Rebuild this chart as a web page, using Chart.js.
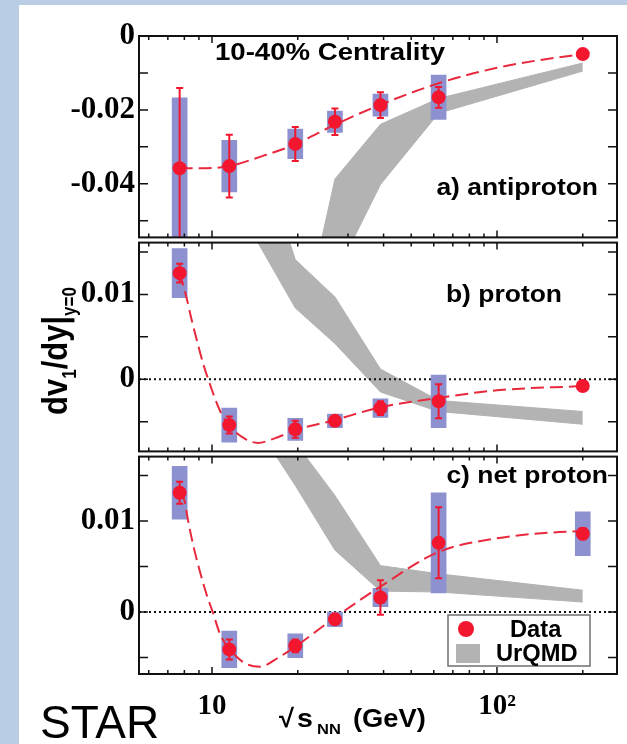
<!DOCTYPE html>
<html>
<head>
<meta charset="utf-8">
<title>dv1/dy</title>
<script src="https://cdn.jsdelivr.net/npm/chart.js@4/dist/chart.umd.min.js"></script>
<style>
    html, body { margin: 0; padding: 0; }
    body { width: 627px; height: 744px; background: #b9cde5; position: relative; overflow: hidden; }
    #sheet { position: absolute; left: 19px; top: 5px; right: 0; bottom: 0; background: #fff; }
    canvas { position: absolute; left: 0; }
</style>
</head>
<body>
<div id="sheet"></div>
<canvas id="panelA" width="627" height="260" style="top:0"></canvas>
<canvas id="panelB" width="627" height="254" style="top:220px"></canvas>
<canvas id="panelC" width="627" height="310" style="top:434px"></canvas>
<script>
/**
 * 数据
 */
//能量点 (GeV)
var energies = [7.7, 11.5, 19.6, 27, 39, 62.4, 200];

//a) antiproton
var antiV1 = [-0.0358, -0.0352, -0.0292, -0.0232, -0.0187, -0.0166, -0.0049];
var antiStat = [0.0217, 0.0085, 0.0046, 0.0036, 0.0035, 0.0028, 0];
var antiSys = [0.0191, 0.0070, 0.0040, 0.0029, 0.0030, 0.0060, 0];

//b) proton
var protV1 = [0.0125, -0.0054, -0.0059, -0.0049, -0.0034, -0.0026, -0.0008];
var protStat = [0.0011, 0.0010, 0.0010, 0.0005, 0.0008, 0.0020, 0];
var protSys = [0.0029, 0.0020, 0.0013, 0.0008, 0.0011, 0.0031, 0];

//c) net proton
var netV1 = [0.0131, -0.0041, -0.0037, -0.0008, 0.0016, 0.0076, 0.0086];
var netStat = [0.0012, 0.0011, 0.0007, 0.0004, 0.0019, 0.0039, 0.0006];
var netSys = [0.0029, 0.0020, 0.0013, 0.0008, 0.0010, 0.0055, 0.0024];

//UrQMD 带 (上沿 / 下沿)
var antiBandE = [19.6, 27, 39, 62.4, 200];
var antiBandHi = [-0.087, -0.0387, -0.0239, -0.0169, -0.0073];
var antiBandLo = [-0.100, -0.0650, -0.0402, -0.0209, -0.0095];

var protBandE = [11.5, 19.6, 27, 39, 62.4, 200];
var protBandHi = [0.038, 0.0141, 0.0097, 0.0012, -0.0025, -0.0038];
var protBandLo = [0.022, 0.0084, 0.0042, -0.0015, -0.0038, -0.0053];

var netBandE = [11.5, 19.6, 27, 39, 62.4, 200];
var netBandHi = [0.030, 0.0186, 0.0128, 0.0051, 0.0042, 0.0024];
var netBandLo = [0.025, 0.0139, 0.0068, 0.0023, 0.0022, 0.0011];

//拟合曲线
var antiFitE = [7.7, 9, 11.5, 15, 19.6, 27, 39, 62.4, 100, 150, 200];
var antiFit = [-0.0358, -0.0358, -0.0352, -0.0325, -0.0293, -0.0240, -0.0186, -0.0128, -0.0086, -0.0062, -0.0049];

var protFitE = [7.7, 8.1, 8.5, 8.85, 9.3, 9.7, 10.7, 11.6, 13.2, 14.5, 16.5, 19.6, 27, 39, 62.4, 100, 200];
var protFit = [0.0125, 0.0099, 0.0069, 0.0046, 0.0019, 0.0, -0.0038, -0.0056, -0.0071, -0.0075, -0.0070, -0.0060, -0.0048, -0.0033, -0.0022, -0.0013, -0.0008];

var netFitE = [7.7, 8.0, 8.26, 8.6, 9.08, 9.58, 10.06, 10.67, 11.4, 12.2, 13.2, 14.7, 17.3, 19.6, 27, 39, 62.4, 100, 150, 200];
var netFit = [0.0131, 0.0123, 0.0099, 0.0073, 0.0044, 0.0019, 0.0, -0.0024, -0.0039, -0.0049, -0.0057, -0.0060, -0.0049, -0.0038, -0.0006, 0.0028, 0.0066, 0.0081, 0.0087, 0.0089];

//刻度
var antiTicks = [0, -0.01, -0.02, -0.03, -0.04, -0.05];
var antiTickLabels = ['0', '', '-0.02', '', '-0.04', ''];
var protTicks = [0.015, 0.01, 0.005, 0, -0.005];
var protTickLabels = ['', '0.01', '', '0', ''];
var xMajorTicks = [10, 100];
var xMajorLabels = ['10', '10\u00b2'];
var xMinorTicks = [6, 7, 8, 9, 20, 30, 40, 50, 60, 70, 80, 90, 200];

var RED = '#f2162e';
var FIT_RED = '#e8283c';
var BLUE = '#8d91cf';
var GRAY = '#b3b3b3';
var SANS = '"Liberation Sans", Arial, sans-serif';
var SERIF = '"Liberation Serif", "Times New Roman", serif';

function pts(xs, ys) {
    return xs.map(function (x, i) { return {x: x, y: ys[i]}; });
}

//横向拉伸的文字
function stretchText(ctx, text, x, y, font, align, sx) {
    ctx.save();
    ctx.font = font;
    ctx.fillStyle = '#000';
    ctx.textAlign = 'left';
    ctx.textBaseline = 'alphabetic';
    var w = ctx.measureText(text).width * sx;
    var left = align === 'right' ? x - w : (align === 'center' ? x - w / 2 : x);
    ctx.translate(left, y);
    ctx.scale(sx, 1);
    ctx.fillText(text, 0, 0);
    ctx.restore();
}

//边框 + 内向刻度
var frameTicks = {
    id: 'frameTicks',
    afterDraw: function (chart) {
        var ctx = chart.ctx, a = chart.chartArea;
        var xs = chart.scales.x, ys = chart.scales.y;
        ctx.save();
        ctx.strokeStyle = '#111';
        ctx.lineWidth = 1.5;
        ctx.beginPath();
        ys.ticks.forEach(function (t) {
            var py = ys.getPixelForValue(t.value);
            ctx.moveTo(a.left, py); ctx.lineTo(a.left + 9, py);
            ctx.moveTo(a.right, py); ctx.lineTo(a.right - 9, py);
        });
        function xTick(v, len) {
            var px = xs.getPixelForValue(v);
            ctx.moveTo(px, a.top); ctx.lineTo(px, a.top + len);
            ctx.moveTo(px, a.bottom); ctx.lineTo(px, a.bottom - len);
        }
        xMajorTicks.forEach(function (v) { xTick(v, 7); });
        xMinorTicks.forEach(function (v) { xTick(v, 4); });
        ctx.stroke();
        ctx.lineWidth = 2;
        ctx.strokeRect(a.left, a.top, a.right - a.left, a.bottom - a.top);
        ctx.restore();
    }
};

//误差棒, 画在数据点之前
function errorBarPlugin(values, errors, withZero) {
    return {
        id: 'errorBars',
        beforeDatasetDraw: function (chart, args) {
            var ctx = chart.ctx, a = chart.chartArea;
            var xs = chart.scales.x, ys = chart.scales.y;
            //零线 (虚点线)
            if (args.index === 2 && withZero) {
                ctx.save();
                ctx.strokeStyle = '#111';
                ctx.lineWidth = 2;
                ctx.setLineDash([2, 3]);
                ctx.beginPath();
                var py0 = ys.getPixelForValue(0);
                ctx.moveTo(a.left, py0);
                ctx.lineTo(a.right, py0);
                ctx.stroke();
                ctx.restore();
            }
            if (args.index !== 0) return;
            ctx.save();
            ctx.beginPath();
            ctx.rect(a.left, a.top, a.right - a.left, a.bottom - a.top);
            ctx.clip();
            ctx.strokeStyle = RED;
            ctx.lineWidth = 2;
            ctx.beginPath();
            values.forEach(function (v, i) {
                var e = errors[i];
                if (!e) return;
                var px = xs.getPixelForValue(energies[i]);
                var top = ys.getPixelForValue(v + e);
                var bot = ys.getPixelForValue(v - e);
                ctx.moveTo(px, top); ctx.lineTo(px, bot);
                ctx.moveTo(px - 3.5, top); ctx.lineTo(px + 3.5, top);
                ctx.moveTo(px - 3.5, bot); ctx.lineTo(px + 3.5, bot);
            });
            ctx.stroke();
            ctx.restore();
        }
    };
}

function makePanel(id, p) {
    var boxes = [];
    energies.forEach(function (e, i) {
        if (p.sys[i] > 0) boxes.push({x: e, y: [p.v1[i] - p.sys[i], p.v1[i] + p.sys[i]]});
    });

    return new Chart(document.getElementById(id), {
        type: 'scatter',
        data: {
            datasets: [{
                type: 'scatter',
                label: 'Data',
                data: pts(energies, p.v1),
                pointRadius: 7,
                pointBackgroundColor: RED,
                pointBorderWidth: 0,
                showLine: false,
                order: 0,
                clip: 10
            }, {
                type: 'line',
                label: 'fit',
                data: pts(p.fitE, p.fit),
                borderColor: FIT_RED,
                borderWidth: 2,
                borderDash: [13, 6],
                pointRadius: 0,
                showLine: true,
                fill: false,
                cubicInterpolationMode: 'monotone',
                order: 1,
                clip: 0
            }, {
                type: 'bar',
                label: 'sys',
                data: boxes,
                backgroundColor: BLUE,
                borderWidth: 0,
                barThickness: 15,
                order: 2,
                clip: 0
            }, {
                type: 'line',
                label: 'UrQMD',
                data: pts(p.bandE, p.bandHi),
                borderColor: GRAY,
                backgroundColor: GRAY,
                borderWidth: 1,
                pointRadius: 0,
                tension: 0,
                showLine: true,
                fill: '+1',
                order: 3,
                clip: 0
            }, {
                type: 'line',
                label: 'UrQMD low',
                data: pts(p.bandE, p.bandLo),
                borderColor: GRAY,
                borderWidth: 1,
                pointRadius: 0,
                tension: 0,
                showLine: true,
                fill: false,
                order: 4,
                clip: 0
            }]
        },
        options: {
            responsive: false,
            animation: false,
            events: [],
            layout: {padding: p.padding},
            plugins: {
                legend: {display: false},
                tooltip: {enabled: false}
            },
            scales: {
                x: {
                    type: 'logarithmic',
                    min: 5.545,
                    max: 263.7,
                    bounds: 'data',
                    offset: false,
                    display: p.showX,
                    grid: {display: false, drawTicks: false},
                    border: {display: false},
                    afterBuildTicks: function (s) {
                        s.ticks = xMajorTicks.map(function (v) { return {value: v}; });
                    },
                    afterFit: function (s) {
                        if (p.showX) s.height = 70;
                    },
                    ticks: {
                        autoSkip: false,
                        maxRotation: 0,
                        padding: 15,
                        color: '#000',
                        font: {family: SERIF, weight: 'bold', size: 29},
                        callback: function (v, i) { return xMajorLabels[i]; }
                    }
                },
                y: {
                    min: p.yMin,
                    max: p.yMax,
                    bounds: 'data',
                    grid: {display: false, drawTicks: false},
                    border: {display: false},
                    afterBuildTicks: function (s) {
                        s.ticks = p.ticks.map(function (v) { return {value: v}; });
                    },
                    afterFit: function (s) { s.width = 139; },
                    ticks: {
                        autoSkip: false,
                        padding: 4,
                        color: '#000',
                        font: {family: SERIF, weight: 'bold', size: 31},
                        callback: function (v, i) { return p.tickLabels[i]; }
                    }
                }
            }
        },
        plugins: [errorBarPlugin(p.v1, p.stat, p.zero), frameTicks, {id: 'notes', afterDraw: p.notes}]
    });
}

/**
 * a) antiproton
 */
makePanel('panelA', {
    v1: antiV1, stat: antiStat, sys: antiSys,
    fitE: antiFitE, fit: antiFit,
    bandE: antiBandE, bandHi: antiBandHi, bandLo: antiBandLo,
    yMin: -0.0545, yMax: 0,
    ticks: antiTicks, tickLabels: antiTickLabels,
    padding: {left: 0, right: 10, top: 36, bottom: 20},
    showX: false, zero: false,
    notes: function (chart) {
        var ctx = chart.ctx;
        stretchText(ctx, '10-40% Centrality', 330, 60, 'bold 24px ' + SANS, 'center', 1.15);
        stretchText(ctx, 'a) antiproton', 598, 195, 'bold 23px ' + SANS, 'right', 1.15);
    }
});

/**
 * b) proton
 */
makePanel('panelB', {
    v1: protV1, stat: protStat, sys: protSys,
    fitE: protFitE, fit: protFit,
    bandE: protBandE, bandHi: protBandHi, bandLo: protBandLo,
    yMin: -0.0085, yMax: 0.0161,
    ticks: protTicks, tickLabels: protTickLabels,
    padding: {left: 0, right: 10, top: 20, bottom: 20},
    showX: false, zero: true,
    notes: function (chart) {
        var ctx = chart.ctx;
        stretchText(ctx, 'b) proton', 562, 82, 'bold 23px ' + SANS, 'right', 1.15);

        //纵轴标题 dv1/dy|y=0
        var main = 'bold 31px ' + SANS, sub = 'bold 17px ' + SANS;
        var parts = [['dv', main, 0], ['1', sub, 8], ['/dy|', main, 0], ['y=0', sub, 8]];
        ctx.save();
        ctx.translate(67, 195);
        ctx.rotate(-Math.PI / 2);
        ctx.scale(1, 1.15);
        ctx.fillStyle = '#000';
        ctx.textAlign = 'left';
        ctx.textBaseline = 'alphabetic';
        var pos = 0;
        parts.forEach(function (t) {
            ctx.font = t[1];
            ctx.fillText(t[0], pos, t[2]);
            pos += ctx.measureText(t[0]).width;
        });
        ctx.restore();
    }
});

/**
 * c) net proton
 */
makePanel('panelC', {
    v1: netV1, stat: netStat, sys: netSys,
    fitE: netFitE, fit: netFit,
    bandE: netBandE, bandHi: netBandHi, bandLo: netBandLo,
    yMin: -0.0068, yMax: 0.01707,
    ticks: protTicks, tickLabels: protTickLabels,
    padding: {left: 0, right: 10, top: 20, bottom: 0},
    showX: true, zero: true,
    notes: function (chart) {
        var ctx = chart.ctx;
        var sets = chart.data.datasets;
        stretchText(ctx, 'c) net proton', 608, 49, 'bold 23px ' + SANS, 'right', 1.15);

        //图例
        ctx.save();
        ctx.fillStyle = '#fff';
        ctx.fillRect(448, 181, 142, 51);
        ctx.strokeStyle = '#6f6f6f';
        ctx.lineWidth = 1.5;
        ctx.strokeRect(448, 181, 142, 51);
        ctx.fillStyle = RED;
        ctx.beginPath();
        ctx.arc(466, 195, 8, 0, Math.PI * 2);
        ctx.fill();
        ctx.fillStyle = GRAY;
        ctx.fillRect(456, 210, 24, 19);
        ctx.restore();
        stretchText(ctx, sets[0].label, 510, 203, 'bold 23px ' + SANS, 'left', 1.03);
        stretchText(ctx, sets[3].label, 496, 227, 'bold 23px ' + SANS, 'left', 1.03);

        //横轴标题
        var big = 'bold 26px ' + SANS;
        stretchText(ctx, '\u221a', 279, 293, big, 'left', 1.05);
        stretchText(ctx, 's', 297, 293, big, 'left', 1.1);
        stretchText(ctx, 'NN', 317, 300, 'bold 15px ' + SANS, 'left', 1.1);
        stretchText(ctx, '(GeV)', 353, 293, big, 'left', 1.05);

        stretchText(ctx, 'STAR', 40, 304, '46px ' + SANS, 'left', 1.0);
    }
});
</script>
</body>
</html>
